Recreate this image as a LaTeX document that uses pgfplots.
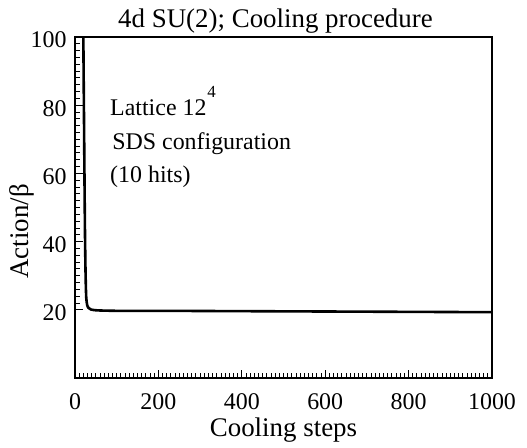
\documentclass[border=0pt]{standalone}
\usepackage{fontspec}
\setmainfont{Liberation Serif}
\usepackage{pgfplots}
\pgfplotsset{compat=1.18}
\begin{document}
\begin{tikzpicture}
\begin{axis}[
  name=ax,
  scale only axis,
  width=417bp, height=341bp,
  xmin=0, xmax=1000, ymin=0, ymax=100,
  xtick={0,200,400,600,800,1000},
  ytick={20,40,60,80,100},
  minor x tick num=19,
  minor y tick num=9,
  xtick pos=bottom, ytick pos=left,
  tick align=inside,
  major tick length=8bp, minor tick length=5bp,
  axis line style={line width=1.3bp},
  every tick/.style={black, line width=0.9bp},
  /pgf/number format/assume math mode=true,
  /pgf/number format/set thousands separator={},
  ticklabel style={font=\fontsize{24}{26}\selectfont},
  xticklabel style={yshift=-12bp},
  yticklabel style={xshift=-5bp, yshift=-3bp},
  title={4d SU(2); Cooling procedure},
  title style={font=\fontsize{27}{29}\selectfont, yshift=-6bp, xshift=-8bp},
  xlabel={Cooling steps},
  ylabel={Action/β},
  xlabel style={font=\fontsize{27}{29}\selectfont, at={(axis description cs:0.5,-0.152)}, anchor=center},
  ylabel style={font=\fontsize{27}{29}\selectfont, at={(axis description cs:-0.127,0.43)}, anchor=center},
  clip=true,
]
\addplot[black, line width=2.6bp, smooth, tension=0.4] coordinates {
  (19,115) (20,100) (21,85) (22,70) (23,55) (24,42) (25,33) (26,27) (27,23.5) (29,21.5) (32,20.6) (38,20.1) (47,19.9) (60,19.8) (100,19.7) (200,19.7) (400,19.6) (600,19.5) (800,19.4) (1000,19.3)
};
\node[anchor=base west, font=\fontsize{24}{26}\selectfont, inner sep=0pt] at (axis cs:84,77.1) {Lattice 12\kern1bp\raisebox{0.75em}{\fontsize{17}{17}\selectfont 4}};
\node[anchor=base west, font=\fontsize{24}{26}\selectfont, inner sep=0pt] at (axis cs:89,66.9) {SDS configuration};
\node[anchor=base west, font=\fontsize{24}{26}\selectfont, inner sep=0pt] at (axis cs:84,57.4) {(10 hits)};
\end{axis}
\path ([xshift=-75bp,yshift=-70bp]ax.south west) rectangle ([xshift=35bp,yshift=37bp]ax.north east);
\end{tikzpicture}
\end{document}
